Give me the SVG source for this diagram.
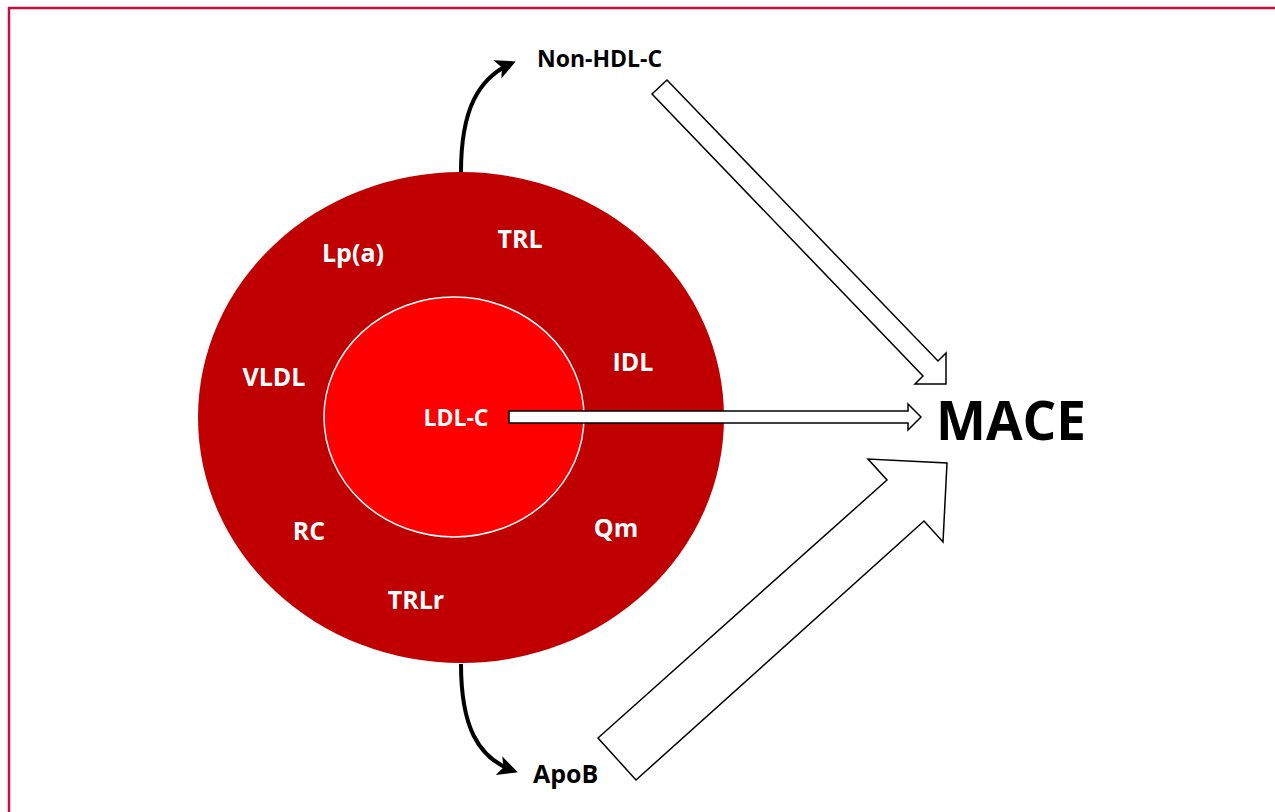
<svg xmlns="http://www.w3.org/2000/svg" width="1275" height="812" viewBox="0 0 1275 812">
  <style>
    .lbl { font-family: "Open Sans", "Liberation Sans", sans-serif; font-weight: bold; fill: #FFFFFF; font-size: 25px; text-anchor: middle; }
    .out { font-family: "Open Sans", "Liberation Sans", sans-serif; font-weight: bold; fill: #000000; font-size: 23px; }
    .block { fill: #FFFFFF; stroke: #000000; stroke-width: 1.5; stroke-linejoin: miter; }
    .curve { fill: none; stroke: #000000; stroke-width: 4; }
  </style>
  <defs>
    <marker id="ah" viewBox="0 0 10 10" refX="8" refY="5" markerWidth="5" markerHeight="5" orient="auto" markerUnits="strokeWidth">
      <path d="M0,0 L10,5 L0,10 L2.5,5 Z" fill="#000000"/>
    </marker>
  </defs>
  <rect x="9" y="8" width="1320" height="900" fill="#FFFFFF" stroke="#C5103C" stroke-width="2.5"/>

  <g id="lipoproteins">
    <ellipse cx="461" cy="417.5" rx="263" ry="245.5" fill="#C00000"/>
    <text class="lbl" x="353" y="262">Lp(a)</text>
    <text class="lbl" x="520" y="248">TRL</text>
    <text class="lbl" x="274" y="386">VLDL</text>
    <text class="lbl" x="633" y="371">IDL</text>
    <text class="lbl" x="309" y="540">RC</text>
    <text class="lbl" x="616" y="537">Qm</text>
    <text class="lbl" x="416" y="609">TRLr</text>
  </g>

  <g id="ldl-c">
    <ellipse cx="454" cy="417" rx="130" ry="120" fill="#FF0000" stroke="#FFFFFF" stroke-width="1.5"/>
    <text class="lbl" x="456" y="426" style="font-size:23px">LDL-C</text>
  </g>

  <g id="non-hdl-c">
    <text class="out" x="537" y="67">Non-HDL-C</text>
  </g>

  <g id="apob">
    <text class="out" x="533" y="783" style="font-size:25px">ApoB</text>
  </g>

  <g id="mace">
    <text x="936" y="440" style="font-family:'Open Sans','Liberation Sans',sans-serif;font-weight:bold;font-size:53px;fill:#000000">MACE</text>
  </g>

  <g id="connectors">
    <path class="curve" d="M461,172 C461,110 478,78 512,63" marker-end="url(#ah)"/>
    <path class="curve" d="M461,664 C461,725 477,758 514,771" marker-end="url(#ah)"/>
    <polygon class="block" points="652,94 667,80 938,361 946,353 946,384 915,384 923,376"/>
    <polygon class="block" points="509,411 908,411 908,404 921,417 908,430 908,423 509,423"/>
    <polygon class="block" points="598,738 887,480 868,459 947,463 943,542 924,521 636,780"/>
  </g>
</svg>
